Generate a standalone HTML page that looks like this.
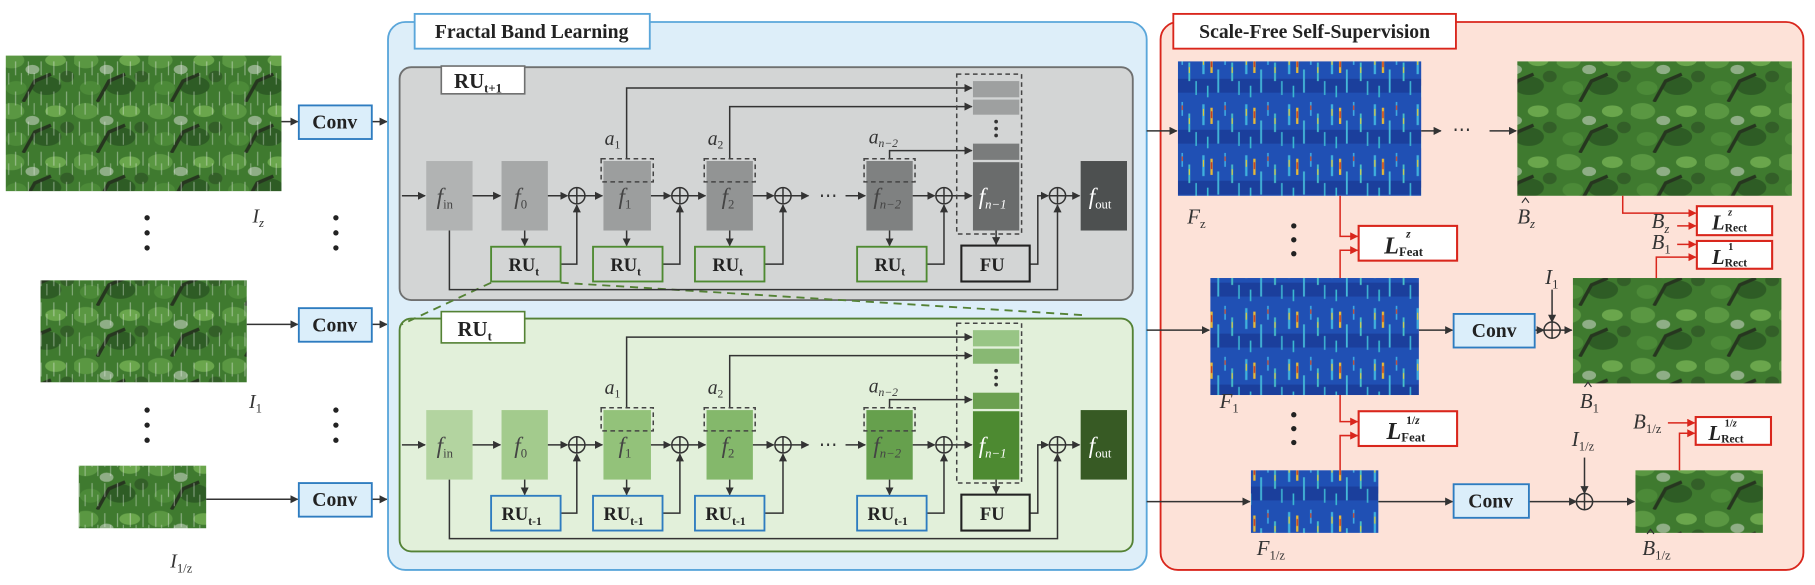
<!DOCTYPE html>
<html><head><meta charset="utf-8"><style>
html,body{margin:0;padding:0;background:#fff;}
svg{display:block;}
text{font-family:"Liberation Serif",serif;}
.b{font-weight:bold;fill:#222;}
.i{font-style:italic;fill:#333;}
.w{font-style:italic;fill:#fff;}
.g{font-style:italic;fill:#444;}
</style></head><body>
<svg width="1815" height="585" viewBox="0 0 1567 505" preserveAspectRatio="none" xmlns="http://www.w3.org/2000/svg">
<defs>
<marker id="a" viewBox="0 0 10 10" refX="9" refY="5" markerWidth="7" markerHeight="7" orient="auto" markerUnits="userSpaceOnUse"><path d="M0,0L10,5L0,10z" fill="#333"/></marker>
<marker id="r" viewBox="0 0 10 10" refX="9" refY="5" markerWidth="7" markerHeight="7" orient="auto" markerUnits="userSpaceOnUse"><path d="M0,0L10,5L0,10z" fill="#d9261c"/></marker>
<pattern id="heat" width="37" height="44" patternUnits="userSpaceOnUse">
<rect width="37" height="44" fill="#2050b4"/>
<rect x="0" y="24" width="37" height="12" fill="#1b3f9c"/>
<rect x="2" y="2" width="2" height="18" fill="#3fb0dc"/>
<rect x="2.5" y="6" width="1" height="6" fill="#e8c830"/>
<rect x="9" y="5" width="2" height="14" fill="#e6b838"/>
<rect x="9.4" y="8" width="1.2" height="6" fill="#cc3a20"/>
<rect x="15" y="16" width="1.6" height="20" fill="#44b8d8"/>
<rect x="21" y="0" width="1.4" height="12" fill="#3ea8e0"/>
<rect x="21.2" y="3" width="1" height="4" fill="#d84020"/>
<rect x="27" y="10" width="1.6" height="16" fill="#48c0c8"/>
<rect x="27.3" y="14" width="1" height="5" fill="#e0d040"/>
<rect x="33" y="26" width="1.4" height="12" fill="#3cb0d0"/>
<rect x="6" y="30" width="1.4" height="10" fill="#3ab8d0"/>
</pattern>
<pattern id="tree" width="64" height="44" patternUnits="userSpaceOnUse">
<rect width="64" height="44" fill="#3f7a2f"/>
<ellipse cx="10" cy="8" rx="11" ry="7" fill="#5a9742"/>
<ellipse cx="40" cy="30" rx="13" ry="8" fill="#2e5c25"/>
<ellipse cx="48" cy="8" rx="9" ry="5" fill="#6aa64c"/>
<ellipse cx="14" cy="32" rx="9" ry="6" fill="#4c8a38"/>
<ellipse cx="28" cy="16" rx="6" ry="4" fill="#8fae86"/>
<ellipse cx="58" cy="22" rx="6" ry="5" fill="#335f28"/>
<path d="M20,44 L30,26 L44,20" stroke="#26361f" stroke-width="3" fill="none"/>
</pattern>
<pattern id="rain" width="11" height="26" patternUnits="userSpaceOnUse">
<rect x="2" y="1" width="1" height="12" fill="#e6eee6" opacity="0.45"/>
<rect x="7" y="11" width="1" height="10" fill="#e6eee6" opacity="0.4"/>
</pattern>
</defs>

<!-- left images -->
<rect x="5" y="48" width="238" height="117" fill="url(#tree)"/><rect x="5" y="48" width="238" height="117" fill="url(#rain)"/>
<rect x="35" y="242" width="178" height="88" fill="url(#tree)"/><rect x="35" y="242" width="178" height="88" fill="url(#rain)"/>
<rect x="68" y="402" width="110" height="54" fill="url(#tree)"/><rect x="68" y="402" width="110" height="54" fill="url(#rain)"/>
<text x="218" y="192" class="i" font-size="17">I<tspan font-size="11" dy="4">z</tspan></text>
<text x="215" y="352" class="i" font-size="17">I<tspan font-size="11" dy="4" font-style="normal">1</tspan></text>
<text x="147" y="490" class="i" font-size="17">I<tspan font-size="11" dy="4" font-style="normal">1/z</tspan></text>
<g fill="#222"><circle cx="127" cy="188" r="2.3"/><circle cx="127" cy="201" r="2.3"/><circle cx="127" cy="214" r="2.3"/>
<circle cx="127" cy="354" r="2.3"/><circle cx="127" cy="367" r="2.3"/><circle cx="127" cy="380" r="2.3"/>
<circle cx="290" cy="188" r="2.3"/><circle cx="290" cy="201" r="2.3"/><circle cx="290" cy="214" r="2.3"/>
<circle cx="290" cy="354" r="2.3"/><circle cx="290" cy="367" r="2.3"/><circle cx="290" cy="380" r="2.3"/></g>
<g stroke="#333" stroke-width="1.3" fill="none">
<line x1="243" y1="105" x2="257" y2="105" marker-end="url(#a)"/>
<line x1="213" y1="280" x2="257" y2="280" marker-end="url(#a)"/>
<line x1="178" y1="431" x2="257" y2="431" marker-end="url(#a)"/>
<line x1="321" y1="105" x2="334" y2="105" marker-end="url(#a)"/>
<line x1="321" y1="280" x2="334" y2="280" marker-end="url(#a)"/>
<line x1="321" y1="431" x2="334" y2="431" marker-end="url(#a)"/>
</g>
<g fill="#dbeefa" stroke="#2e7cc0" stroke-width="1.6">
<rect x="258" y="91" width="63" height="29"/><rect x="258" y="266" width="63" height="29"/><rect x="258" y="417" width="63" height="29"/>
</g>
<g class="b" font-size="17" text-anchor="middle"><text x="289" y="111">Conv</text><text x="289" y="286">Conv</text><text x="289" y="437">Conv</text></g>

<!-- blue panel -->
<rect x="335" y="19" width="655" height="473" rx="15" fill="#ddeef9" stroke="#5aa6da" stroke-width="1.6"/>
<rect x="358" y="12" width="203" height="30" fill="#fff" stroke="#5aa6da" stroke-width="1.6"/>
<text x="459" y="33" class="b" font-size="17" text-anchor="middle">Fractal Band Learning</text>

<!-- gray panel -->
<rect x="345" y="58" width="633" height="201" rx="10" fill="#d3d5d5" stroke="#6f7070" stroke-width="1.6"/>
<rect x="381" y="57" width="72" height="24" fill="#fff" stroke="#6f7070" stroke-width="1.4"/>
<text x="392" y="76" class="b" font-size="18">RU<tspan font-size="11" dy="4">t+1</tspan></text>

<!-- green panel -->
<rect x="345" y="275" width="633" height="201" rx="10" fill="#e2f0da" stroke="#548235" stroke-width="1.6"/>
<rect x="381" y="269" width="72" height="27" fill="#fff" stroke="#548235" stroke-width="1.4"/>
<text x="395" y="290" class="b" font-size="18">RU<tspan font-size="11" dy="4">t</tspan></text>
<g stroke="#548235" stroke-width="1.6" stroke-dasharray="7,5" fill="none">
<line x1="424" y1="244" x2="347" y2="280"/><line x1="484" y1="244" x2="935" y2="272"/></g>

<g>
<rect x="368" y="139" width="40" height="60" fill="#b1b3b3"/>
<rect x="433" y="139" width="40" height="60" fill="#a6a8a8"/>
<rect x="521" y="139" width="41" height="60" fill="#9c9e9e"/>
<rect x="610" y="139" width="40" height="60" fill="#929494"/>
<rect x="748" y="139" width="40" height="60" fill="#7f8181"/>
<rect x="840" y="70" width="40" height="14" fill="#9ea0a0"/>
<rect x="840" y="86" width="40" height="13" fill="#9ea0a0"/>
<rect x="840" y="124" width="40" height="14" fill="#7a7c7c"/>
<rect x="840" y="140" width="40" height="59" fill="#6a6c6c"/>
<rect x="933" y="139" width="40" height="60" fill="#4d5050"/>
</g>
<g>
<rect x="368" y="354" width="40" height="60" fill="#b3d4a0"/>
<rect x="433" y="354" width="40" height="60" fill="#a3cb8d"/>
<rect x="521" y="354" width="41" height="60" fill="#93c27a"/>
<rect x="610" y="354" width="40" height="60" fill="#84b86b"/>
<rect x="748" y="354" width="40" height="60" fill="#66a04d"/>
<rect x="840" y="285" width="40" height="14" fill="#98c585"/>
<rect x="840" y="301" width="40" height="13" fill="#88b873"/>
<rect x="840" y="339" width="40" height="14" fill="#6ba050"/>
<rect x="840" y="355" width="40" height="59" fill="#4d8a31"/>
<rect x="933" y="354" width="40" height="60" fill="#375a24"/>
</g>

<g id="conn1">
<g stroke="#333" stroke-width="1.3" fill="none">
<line x1="347" y1="169" x2="367" y2="169" marker-end="url(#a)"/>
<line x1="408" y1="169" x2="432" y2="169" marker-end="url(#a)"/>
<line x1="473" y1="169" x2="490" y2="169" marker-end="url(#a)"/>
<line x1="505" y1="169" x2="520" y2="169" marker-end="url(#a)"/>
<line x1="562" y1="169" x2="579" y2="169" marker-end="url(#a)"/>
<line x1="594" y1="169" x2="609" y2="169" marker-end="url(#a)"/>
<line x1="650" y1="169" x2="668" y2="169" marker-end="url(#a)"/>
<line x1="683" y1="169" x2="698" y2="169" marker-end="url(#a)"/>
<line x1="730" y1="169" x2="747" y2="169" marker-end="url(#a)"/>
<line x1="788" y1="169" x2="807" y2="169" marker-end="url(#a)"/>
<line x1="822" y1="169" x2="839" y2="169" marker-end="url(#a)"/>
<line x1="920" y1="169" x2="932" y2="169" marker-end="url(#a)"/>
<circle cx="498" cy="169" r="7"/><line x1="491" y1="169" x2="505" y2="169"/><line x1="498" y1="162" x2="498" y2="176"/>
<circle cx="587" cy="169" r="7"/><line x1="580" y1="169" x2="594" y2="169"/><line x1="587" y1="162" x2="587" y2="176"/>
<circle cx="676" cy="169" r="7"/><line x1="669" y1="169" x2="683" y2="169"/><line x1="676" y1="162" x2="676" y2="176"/>
<circle cx="815" cy="169" r="7"/><line x1="808" y1="169" x2="822" y2="169"/><line x1="815" y1="162" x2="815" y2="176"/>
<circle cx="913" cy="169" r="7"/><line x1="906" y1="169" x2="920" y2="169"/><line x1="913" y1="162" x2="913" y2="176"/>
<line x1="453" y1="199" x2="453" y2="212" marker-end="url(#a)"/>
<line x1="541" y1="199" x2="541" y2="212" marker-end="url(#a)"/>
<line x1="630" y1="199" x2="630" y2="212" marker-end="url(#a)"/>
<line x1="768" y1="199" x2="768" y2="212" marker-end="url(#a)"/>
<line x1="860" y1="199" x2="860" y2="211" marker-end="url(#a)"/>
<polyline points="484,228 498,228 498,177" marker-end="url(#a)"/>
<polyline points="572,228 587,228 587,177" marker-end="url(#a)"/>
<polyline points="660,228 676,228 676,177" marker-end="url(#a)"/>
<polyline points="800,228 815,228 815,177" marker-end="url(#a)"/>
<polyline points="889,228 896,228 896,169 905,169" marker-end="url(#a)"/>
<polyline points="388,199 388,250 913,250 913,177" marker-end="url(#a)"/>
<polyline points="541,137 541,76 839,76" marker-end="url(#a)"/>
<polyline points="630,137 630,92 839,92" marker-end="url(#a)"/>
<polyline points="768,137 768,130 839,130" marker-end="url(#a)"/>
</g>
<g stroke="#444" stroke-width="1.3" stroke-dasharray="4,3" fill="none">
<rect x="519" y="137" width="45" height="20"/><rect x="608" y="137" width="44" height="20"/><rect x="746" y="137" width="44" height="20"/>
<rect x="826" y="64" width="56" height="138"/>
</g>
<g fill="#333"><circle cx="860" cy="105" r="1.6"/><circle cx="860" cy="111" r="1.6"/><circle cx="860" cy="117" r="1.6"/></g>
<text x="707" y="174" font-size="16" fill="#333">⋯</text>
<g class="i" font-size="17"><text x="522" y="125">a<tspan font-size="10" dy="3" font-style="normal">1</tspan></text>
<text x="611" y="125">a<tspan font-size="10" dy="3" font-style="normal">2</tspan></text>
<text x="750" y="124">a<tspan font-size="10" dy="3">n−2</tspan></text></g>
</g>
<use href="#conn1" transform="translate(0,215)"/>

<g font-size="20">
<text x="377" y="176" class="g">f<tspan font-size="11" dy="4" font-style="normal">in</tspan></text>
<text x="444" y="176" class="g">f<tspan font-size="11" dy="4" font-style="normal">0</tspan></text>
<text x="534" y="176" class="g">f<tspan font-size="11" dy="4" font-style="normal">1</tspan></text>
<text x="623" y="176" class="g">f<tspan font-size="11" dy="4" font-style="normal">2</tspan></text>
<text x="754" y="176" class="g">f<tspan font-size="11" dy="4">n−2</tspan></text>
<text x="377" y="391" class="g">f<tspan font-size="11" dy="4" font-style="normal">in</tspan></text>
<text x="444" y="391" class="g">f<tspan font-size="11" dy="4" font-style="normal">0</tspan></text>
<text x="534" y="391" class="g">f<tspan font-size="11" dy="4" font-style="normal">1</tspan></text>
<text x="623" y="391" class="g">f<tspan font-size="11" dy="4" font-style="normal">2</tspan></text>
<text x="754" y="391" class="g">f<tspan font-size="11" dy="4">n−2</tspan></text>
<text x="845" y="176" class="w">f<tspan font-size="11" dy="4">n−1</tspan></text>
<text x="940" y="176" class="w">f<tspan font-size="11" dy="4" font-style="normal">out</tspan></text>
<text x="845" y="391" class="w">f<tspan font-size="11" dy="4">n−1</tspan></text>
<text x="940" y="391" class="w">f<tspan font-size="11" dy="4" font-style="normal">out</tspan></text>
</g>

<g fill="#d3d5d5" stroke="#4e8a31" stroke-width="1.6">
<rect x="424" y="213" width="60" height="30"/><rect x="512" y="213" width="60" height="30"/><rect x="600" y="213" width="60" height="30"/><rect x="740" y="213" width="60" height="30"/></g>
<rect x="830" y="212" width="59" height="31" fill="#d3d5d5" stroke="#222" stroke-width="1.8"/>
<g fill="#e2f0da" stroke="#2e7cc0" stroke-width="1.6">
<rect x="424" y="428" width="60" height="30"/><rect x="512" y="428" width="60" height="30"/><rect x="600" y="428" width="60" height="30"/><rect x="740" y="428" width="60" height="30"/></g>
<rect x="830" y="427" width="59" height="31" fill="#e2f0da" stroke="#222" stroke-width="1.8"/>
<g class="b" font-size="16">
<text x="439" y="234">RU<tspan font-size="10" dy="4">t</tspan></text><text x="527" y="234">RU<tspan font-size="10" dy="4">t</tspan></text><text x="615" y="234">RU<tspan font-size="10" dy="4">t</tspan></text><text x="755" y="234">RU<tspan font-size="10" dy="4">t</tspan></text>
<text x="846" y="234">FU</text>
<text x="433" y="449">RU<tspan font-size="10" dy="4">t-1</tspan></text><text x="521" y="449">RU<tspan font-size="10" dy="4">t-1</tspan></text><text x="609" y="449">RU<tspan font-size="10" dy="4">t-1</tspan></text><text x="749" y="449">RU<tspan font-size="10" dy="4">t-1</tspan></text>
<text x="846" y="449">FU</text>
</g>

<!-- red panel -->
<rect x="1002" y="19" width="555" height="473" rx="15" fill="#fde2d8" stroke="#d9261c" stroke-width="1.6"/>
<rect x="1013" y="12" width="244" height="30" fill="#fff" stroke="#d9261c" stroke-width="1.6"/>
<text x="1135" y="33" class="b" font-size="17" text-anchor="middle">Scale-Free Self-Supervision</text>

<rect x="1017" y="53" width="210" height="116" fill="url(#heat)"/>
<rect x="1045" y="240" width="180" height="101" fill="url(#heat)"/>
<rect x="1080" y="406" width="110" height="54" fill="url(#heat)"/>
<rect x="1310" y="53" width="237" height="116" fill="url(#tree)"/>
<rect x="1358" y="240" width="180" height="91" fill="url(#tree)"/>
<rect x="1412" y="406" width="110" height="54" fill="url(#tree)"/>

<g stroke="#333" stroke-width="1.3" fill="none">
<line x1="990" y1="113" x2="1016" y2="113" marker-end="url(#a)"/>
<line x1="990" y1="285" x2="1044" y2="285" marker-end="url(#a)"/>
<line x1="990" y1="433" x2="1079" y2="433" marker-end="url(#a)"/>
<line x1="1227" y1="113" x2="1244" y2="113" marker-end="url(#a)"/>
<line x1="1286" y1="113" x2="1309" y2="113" marker-end="url(#a)"/>
<line x1="1225" y1="285" x2="1254" y2="285" marker-end="url(#a)"/>
<line x1="1325" y1="285" x2="1333" y2="285" marker-end="url(#a)"/>
<line x1="1347" y1="285" x2="1357" y2="285" marker-end="url(#a)"/>
<line x1="1340" y1="250" x2="1340" y2="278" marker-end="url(#a)"/>
<circle cx="1340" cy="285" r="7"/><line x1="1333" y1="285" x2="1347" y2="285"/><line x1="1340" y1="278" x2="1340" y2="292"/>
<line x1="1190" y1="433" x2="1254" y2="433" marker-end="url(#a)"/>
<line x1="1320" y1="433" x2="1361" y2="433" marker-end="url(#a)"/>
<line x1="1375" y1="433" x2="1411" y2="433" marker-end="url(#a)"/>
<line x1="1368" y1="395" x2="1368" y2="426" marker-end="url(#a)"/>
<circle cx="1368" cy="433" r="7"/><line x1="1361" y1="433" x2="1375" y2="433"/><line x1="1368" y1="426" x2="1368" y2="440"/>
</g>
<text x="1254" y="117" font-size="16" fill="#333">⋯</text>
<g stroke="#d9261c" stroke-width="1.3" fill="none">
<polyline points="1157,169 1157,204 1172,204" marker-end="url(#r)"/>
<polyline points="1157,240 1157,216 1172,216" marker-end="url(#r)"/>
<polyline points="1157,341 1157,364 1172,364" marker-end="url(#r)"/>
<polyline points="1157,406 1157,376 1172,376" marker-end="url(#r)"/>
<polyline points="1401,169 1401,184 1464,184" marker-end="url(#r)"/>
<line x1="1448" y1="195" x2="1464" y2="195" marker-end="url(#r)"/>
<line x1="1448" y1="211" x2="1464" y2="211" marker-end="url(#r)"/>
<polyline points="1430,240 1430,222 1464,222" marker-end="url(#r)"/>
<line x1="1440" y1="365" x2="1463" y2="365" marker-end="url(#r)"/>
<polyline points="1450,406 1450,374 1463,374" marker-end="url(#r)"/>
</g>
<g fill="#fff" stroke="#d9261c" stroke-width="1.8">
<rect x="1173" y="195" width="85" height="30"/><rect x="1173" y="355" width="85" height="30"/>
<rect x="1465" y="178" width="65" height="25"/><rect x="1465" y="208" width="65" height="24"/><rect x="1464" y="360" width="65" height="24"/>
</g>
<g class="b" font-style="italic">
<text x="1195" y="219" font-size="21">L<tspan font-size="11" font-style="normal" dy="2">Feat</tspan></text>
<text x="1214" y="205" font-size="10">z</text>
<text x="1197" y="379" font-size="21">L<tspan font-size="11" font-style="normal" dy="2">Feat</tspan></text>
<text x="1214" y="366" font-size="10" font-style="normal">1/<tspan font-style="italic">z</tspan></text>
<text x="1478" y="198" font-size="18">L<tspan font-size="10" font-style="normal" dy="2">Rect</tspan></text>
<text x="1492" y="186" font-size="9">z</text>
<text x="1478" y="228" font-size="18">L<tspan font-size="10" font-style="normal" dy="2">Rect</tspan></text>
<text x="1492" y="216" font-size="9" font-style="normal">1</text>
<text x="1475" y="380" font-size="18">L<tspan font-size="10" font-style="normal" dy="2">Rect</tspan></text>
<text x="1489" y="368" font-size="9" font-style="normal">1/<tspan font-style="italic">z</tspan></text>
</g>
<g class="i" font-size="18">
<text x="1025" y="193">F<tspan font-size="11" dy="4" font-style="normal">z</tspan></text>
<text x="1053" y="352">F<tspan font-size="11" dy="4" font-style="normal">1</tspan></text>
<text x="1085" y="479">F<tspan font-size="11" dy="4" font-style="normal">1/z</tspan></text>
<text x="1310" y="193">B<tspan font-size="11" dy="4">z</tspan></text>
<text x="1364" y="352">B<tspan font-size="11" dy="4" font-style="normal">1</tspan></text>
<text x="1418" y="479">B<tspan font-size="11" dy="4" font-style="normal">1/z</tspan></text>
<text x="1426" y="197">B<tspan font-size="11" dy="4">z</tspan></text>
<text x="1426" y="215">B<tspan font-size="11" dy="4" font-style="normal">1</tspan></text>
<text x="1410" y="370">B<tspan font-size="11" dy="4" font-style="normal">1/z</tspan></text>
<text x="1334" y="245">I<tspan font-size="11" dy="4" font-style="normal">1</tspan></text>
<text x="1357" y="385">I<tspan font-size="11" dy="4" font-style="normal">1/z</tspan></text>
</g>
<g stroke="#333" stroke-width="1" fill="none">
<polyline points="1314,175 1317,171 1320,175"/>
<polyline points="1368,334 1371,330 1374,334"/>
<polyline points="1422,461 1425,457 1428,461"/>
</g>
<g fill="#222"><circle cx="1117" cy="195" r="2.3"/><circle cx="1117" cy="207" r="2.3"/><circle cx="1117" cy="219" r="2.3"/>
<circle cx="1117" cy="358" r="2.3"/><circle cx="1117" cy="370" r="2.3"/><circle cx="1117" cy="382" r="2.3"/></g>
<g fill="#dbeefa" stroke="#2e7cc0" stroke-width="1.6"><rect x="1255" y="271" width="70" height="29"/><rect x="1255" y="418" width="65" height="29"/></g>
<g class="b" font-size="17" text-anchor="middle"><text x="1290" y="291">Conv</text><text x="1287" y="438">Conv</text></g>
</svg>
</body></html>
